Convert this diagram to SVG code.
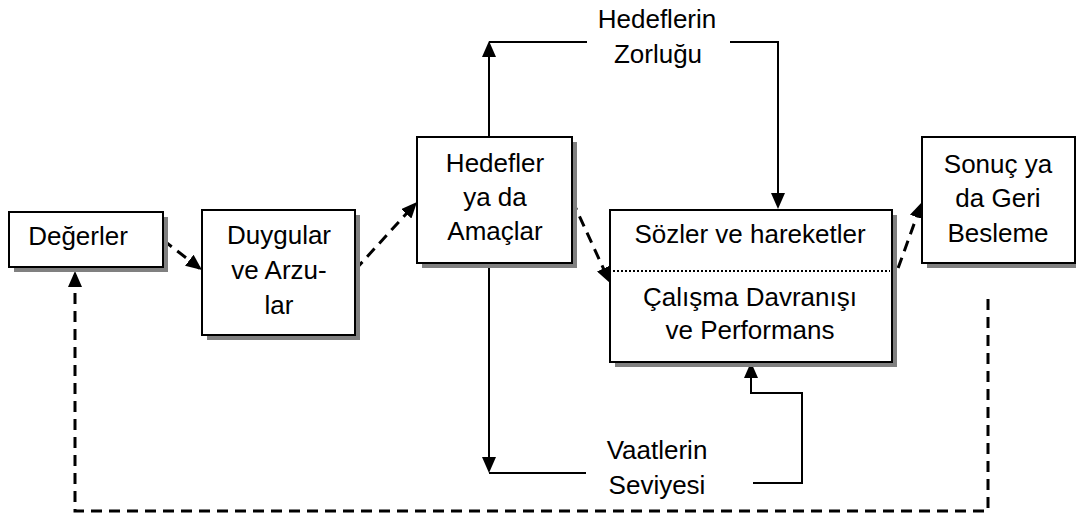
<svg xmlns="http://www.w3.org/2000/svg" width="1076" height="518" viewBox="0 0 1076 518">
  <style>
    .box { fill: #ffffff; stroke: #000000; stroke-width: 2; }
    .shadow { fill: #808080; stroke: none; }
    .lbl { font-family: "Liberation Sans", Arial, sans-serif; font-size: 26px; fill: #000000; text-anchor: middle; }
    .solid { fill: none; stroke: #000000; stroke-width: 2; }
    .dash { fill: none; stroke: #000000; stroke-width: 3; stroke-dasharray: 11 7; }
    .dot { fill: none; stroke: #000000; stroke-width: 2; stroke-dasharray: 2 2; }
  </style>
  <defs>
    <marker id="arrow" markerUnits="userSpaceOnUse" markerWidth="16" markerHeight="14" refX="13" refY="7" orient="auto">
      <path d="M0,0 L16,7 L0,14 z" fill="#000000"/>
    </marker>
  </defs>
  <rect width="1076" height="518" fill="#ffffff"/>

  <g id="connectors">
    <!-- dashed flow between the boxes -->
    <path class="dash" d="M163,240 L199.6,268.2" marker-end="url(#arrow)"/>
    <path class="dash" d="M355,270 L415,204.2" marker-end="url(#arrow)"/>
    <path class="dash" d="M572,200 L608.8,280.3" marker-end="url(#arrow)"/>
    <path class="dash" d="M892,285 L921,204.8" marker-end="url(#arrow)"/>
    <!-- feedback loop back to values -->
    <path class="dash" d="M988,299 V511 H75 V274" marker-end="url(#arrow)"/>
    <!-- goal difficulty -->
    <path class="solid" d="M489,137 V44" marker-end="url(#arrow)"/>
    <path class="solid" d="M489,42 H587"/>
    <path class="solid" d="M730,42 H778 V206" marker-end="url(#arrow)"/>
    <!-- commitment level -->
    <path class="solid" d="M489,263 V470" marker-end="url(#arrow)"/>
    <path class="solid" d="M489,473 H586"/>
    <path class="solid" d="M753,483 H802 V393 H751 V365" marker-end="url(#arrow)"/>
  </g>

  <g id="degerler">
    <rect class="shadow" x="14" y="217" width="154" height="55"/>
    <rect class="box" x="9" y="212" width="154" height="55"/>
    <text class="lbl" x="78" y="245">Değerler</text>
  </g>

  <g id="duygular">
    <rect class="shadow" x="207" y="215" width="153" height="125"/>
    <rect class="box" x="202" y="210" width="153" height="125"/>
    <text class="lbl" x="279" y="244">Duygular</text>
    <text class="lbl" x="279" y="279">ve Arzu-</text>
    <text class="lbl" x="279" y="314">lar</text>
  </g>

  <g id="hedefler">
    <rect class="shadow" x="422" y="142" width="155" height="126"/>
    <rect class="box" x="417" y="137" width="155" height="126"/>
    <text class="lbl" x="495" y="172">Hedefler</text>
    <text class="lbl" x="495" y="206">ya da</text>
    <text class="lbl" x="495" y="240">Amaçlar</text>
  </g>

  <g id="davranis">
    <rect class="shadow" x="615" y="215" width="282" height="152"/>
    <rect class="box" x="610" y="210" width="282" height="152"/>
    <line class="dot" x1="613" y1="271" x2="890" y2="271"/>
    <text class="lbl" x="750" y="243">Sözler ve hareketler</text>
    <text class="lbl" x="750" y="306">Çalışma Davranışı</text>
    <text class="lbl" x="750" y="339">ve Performans</text>
  </g>

  <g id="sonuc">
    <rect class="shadow" x="927" y="142" width="153" height="126"/>
    <rect class="box" x="922" y="137" width="153" height="126"/>
    <text class="lbl" x="998" y="173">Sonuç ya</text>
    <text class="lbl" x="998" y="207">da Geri</text>
    <text class="lbl" x="998" y="242">Besleme</text>
  </g>

  <g id="zorluk">
    <text class="lbl" x="657" y="28">Hedeflerin</text>
    <text class="lbl" x="658" y="63">Zorluğu</text>
  </g>

  <g id="vaat">
    <text class="lbl" x="657" y="459">Vaatlerin</text>
    <text class="lbl" x="657" y="494">Seviyesi</text>
  </g>
</svg>
